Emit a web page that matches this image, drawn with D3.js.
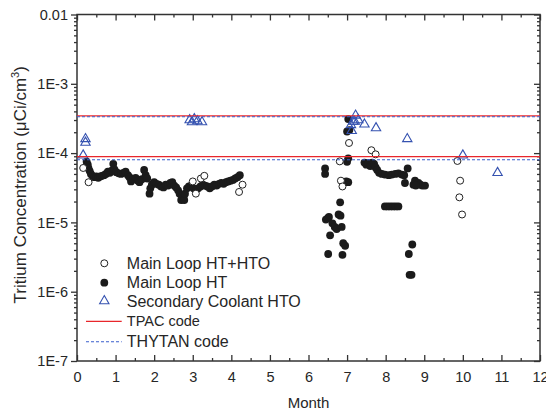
<!DOCTYPE html>
<html>
<head>
<meta charset="utf-8">
<script src="https://cdn.jsdelivr.net/npm/d3@7"></script>
<style>
  body { margin: 0; background: #fff; }
  svg text { font-family: "Liberation Sans", Arial, sans-serif; fill: #262626; }
</style>
</head>
<body>
<div id="chart"></div>
<script>
// Main Loop HT (filled circles): [month, concentration]
const mainLoopHT = [
  [0.25,7.5e-5],[0.28,6.8e-5],[0.30,6.0e-5],[0.33,5.5e-5],[0.36,5.0e-5],[0.40,4.7e-5],[0.45,4.5e-5],
  [0.50,4.6e-5],[0.55,4.4e-5],[0.60,4.6e-5],[0.65,4.7e-5],[0.70,4.8e-5],[0.75,5.0e-5],[0.80,5.4e-5],
  [0.85,5.2e-5],[0.90,5.6e-5],[0.94,7.0e-5],[0.97,5.8e-5],[1.02,5.3e-5],[1.08,5.1e-5],[1.14,5.0e-5],
  [1.20,5.2e-5],[1.26,5.4e-5],[1.32,4.8e-5],[1.36,4.5e-5],[1.40,3.9e-5],[1.45,4.2e-5],[1.52,4.4e-5],
  [1.58,4.0e-5],[1.62,3.8e-5],[1.68,4.2e-5],[1.74,5.7e-5],[1.78,4.8e-5],[1.82,4.3e-5],[1.88,2.6e-5],
  [1.90,3.1e-5],[1.94,3.5e-5],[2.00,3.8e-5],[2.06,3.6e-5],[2.12,3.5e-5],[2.18,3.3e-5],[2.24,3.2e-5],
  [2.30,3.5e-5],[2.36,3.4e-5],[2.42,3.7e-5],[2.47,3.8e-5],[2.52,3.4e-5],[2.57,3.2e-5],[2.62,2.9e-5],
  [2.66,2.6e-5],[2.70,2.1e-5],[2.72,2.4e-5],[2.76,2.3e-5],[2.78,2.1e-5],[2.80,2.6e-5],[2.85,3.1e-5],
  [2.90,3.3e-5],[2.96,3.4e-5],[3.02,3.1e-5],[3.08,2.9e-5],[3.14,3.1e-5],[3.20,3.3e-5],[3.26,3.5e-5],
  [3.32,3.4e-5],[3.38,3.3e-5],[3.44,3.1e-5],[3.50,3.3e-5],[3.56,3.5e-5],[3.62,3.4e-5],[3.68,3.6e-5],
  [3.74,3.7e-5],[3.80,3.6e-5],[3.86,3.8e-5],[3.92,3.9e-5],[3.98,4.0e-5],[4.04,4.1e-5],[4.10,4.3e-5],
  [4.16,4.5e-5],[4.22,4.8e-5],
  [6.43,6.0e-5],[6.43,5.0e-5],[6.45,1.1e-5],[6.50,1.15e-5],[6.53,1.2e-5],[6.56,6.5e-6],[6.51,3.5e-6],
  [6.62,9.7e-6],[6.68,8.6e-6],[6.73,8.0e-6],[6.78,1.3e-5],[6.83,1.25e-5],[6.82,1.95e-5],[6.86,8.6e-6],
  [6.88,3.4e-6],[6.90,5.0e-6],[6.95,4.6e-6],[6.93,3.8e-5],[6.98,3.9e-5],[7.03,3.8e-5],[7.00,7.5e-5],
  [7.03,8.4e-5],[7.00,2.05e-4],[7.06,2.15e-4],[7.03,3.1e-4],
  [7.45,7.3e-5],[7.50,6.8e-5],[7.55,7.2e-5],[7.60,6.5e-5],[7.65,7.3e-5],[7.70,7.0e-5],[7.74,6.2e-5],
  [7.78,5.7e-5],[7.83,5.2e-5],[7.90,5.0e-5],[7.98,4.9e-5],[8.08,4.8e-5],[8.16,4.9e-5],[8.25,5.0e-5],
  [8.33,5.1e-5],[8.42,4.9e-5],[8.48,4.8e-5],[8.57,6.0e-5],[8.50,3.7e-5],[8.72,3.5e-5],[8.76,4.0e-5],
  [8.80,3.6e-5],[8.85,3.7e-5],[8.90,3.5e-5],[8.95,3.4e-5],[9.02,3.4e-5],[8.78,3.4e-5],
  [7.98,1.7e-5],[8.05,1.7e-5],[8.12,1.7e-5],[8.19,1.7e-5],[8.26,1.7e-5],[8.33,1.7e-5],
  [8.69,4.8e-6],[8.60,3.5e-6],[8.62,1.75e-6],[8.67,1.75e-6]
];

// Main Loop HT+HTO (open circles)
const mainLoopHTHTO = [
  [0.16,6.1e-5],[0.30,3.8e-5],[3.00,3.9e-5],[3.08,2.6e-5],[3.21,4.3e-5],[3.30,4.7e-5],
  [4.20,2.75e-5],[4.29,3.5e-5],[6.81,7.6e-5],[6.84,4.0e-5],[6.88,3.3e-5],[7.05,1.4e-4],
  [7.63,1.1e-4],[7.74,9.6e-5],[9.86,7.7e-5],[9.93,4.0e-5],[9.91,2.3e-5],[9.98,1.3e-5]
];

// Secondary Coolant HTO (triangles)
const secondaryHTO = [
  [0.16,9.3e-5],[0.22,1.42e-4],[0.22,1.6e-4],[2.92,3.0e-4],[2.98,2.8e-4],[3.04,3.1e-4],
  [3.12,2.9e-4],[3.24,2.8e-4],[7.10,2.55e-4],[7.12,2.1e-4],[7.16,2.85e-4],[7.20,2.85e-4],
  [7.22,3.5e-4],[7.29,3.0e-4],[7.45,2.6e-4],[7.75,2.3e-4],[8.56,1.6e-4],[10.0,9.3e-5],[10.9,5.2e-5]
];

// code predictions (horizontal levels)
const tpacLevels = [3.45e-4, 8.9e-5];
const thytanLevels = [3.35e-4, 8.0e-5];

const yTickValues = [1e-2, 1e-3, 1e-4, 1e-5, 1e-6, 1e-7];
const yTickLabels = ["0.01", "1E-3", "1E-4", "1E-5", "1E-6", "1E-7"];
const xTickValues = d3.range(0, 13);

const margin = {top: 14.5, right: 6, bottom: 51, left: 77};
const width = 546 - margin.left - margin.right;
const height = 412 - margin.top - margin.bottom;

const svg = d3.select("#chart").append("svg")
  .attr("width", 546)
  .attr("height", 412)
  .append("g")
  .attr("transform", "translate(" + margin.left + "," + margin.top + ")");

const x = d3.scaleLinear().domain([0, 12]).range([0, width]);
const y = d3.scaleLog().domain([1e-7, 1e-2]).range([height, 0]);

// minor tick values
let yMinor = [];
for (let e = -7; e < -2; e++) {
  for (let m = 2; m <= 9; m++) yMinor.push(m * Math.pow(10, e));
}
const xMinor = d3.range(0.5, 12, 1);

const axisColor = "#333";

function styleAxis(g) {
  g.select(".domain").remove();
  g.selectAll("line").attr("stroke", axisColor).attr("stroke-width", 1.3);
}

// left axis: outward ticks
svg.append("g").call(d3.axisLeft(y).tickValues(yMinor).tickSize(3).tickFormat(""))
  .call(styleAxis);
svg.append("g").call(d3.axisLeft(y).tickValues(yTickValues).tickSize(6).tickPadding(3)
    .tickFormat((d, i) => yTickLabels[i]))
  .call(styleAxis)
  .selectAll("text").style("font-size", "14.5px");

// right axis: ticks point into the plot
svg.append("g").attr("transform", "translate(" + width + ",0)")
  .call(d3.axisRight(y).tickValues(yMinor).tickSize(-3).tickFormat("")).call(styleAxis);
svg.append("g").attr("transform", "translate(" + width + ",0)")
  .call(d3.axisRight(y).tickValues(yTickValues).tickSize(-6).tickFormat("")).call(styleAxis);

// bottom axis: ticks up
svg.append("g").attr("transform", "translate(0," + height + ")")
  .call(d3.axisBottom(x).tickValues(xMinor).tickSize(-3).tickFormat("")).call(styleAxis);
svg.append("g").attr("transform", "translate(0," + height + ")")
  .call(d3.axisBottom(x).tickValues(xTickValues).tickSize(-6).tickPadding(11).tickFormat(d3.format("d")))
  .call(styleAxis)
  .selectAll("text").style("font-size", "14.5px");

// top axis: ticks down
svg.append("g")
  .call(d3.axisTop(x).tickValues(xMinor).tickSize(-3).tickFormat("")).call(styleAxis);
svg.append("g")
  .call(d3.axisTop(x).tickValues(xTickValues).tickSize(-6).tickFormat("")).call(styleAxis);

// frame
svg.append("rect")
  .attr("width", width).attr("height", height)
  .attr("fill", "none").attr("stroke", axisColor).attr("stroke-width", 1.5);

// filled circles
svg.append("g").selectAll("circle")
  .data(mainLoopHT).join("circle")
  .attr("cx", d => x(d[0])).attr("cy", d => y(d[1]))
  .attr("r", 3.9).attr("fill", "#1b1b1b");

// open circles
svg.append("g").selectAll("circle")
  .data(mainLoopHTHTO).join("circle")
  .attr("cx", d => x(d[0])).attr("cy", d => y(d[1]))
  .attr("r", 3.5).attr("fill", "#fff").attr("stroke", "#222").attr("stroke-width", 1);

// triangles
const tri = d3.symbol().type(d3.symbolTriangle).size(38);
const triColor = "#3552b0";
svg.append("g").selectAll("path")
  .data(secondaryHTO).join("path")
  .attr("transform", d => "translate(" + x(d[0]) + "," + y(d[1]) + ")")
  .attr("d", tri).attr("fill", "none").attr("stroke", triColor).attr("stroke-width", 1.1);

// code lines
const red = "#e8262b";
const blueDash = "#3a5fcd";
svg.append("g").selectAll("line")
  .data(tpacLevels).join("line")
  .attr("x1", 0).attr("x2", width)
  .attr("y1", d => y(d)).attr("y2", d => y(d))
  .attr("stroke", red).attr("stroke-width", 1.3);
svg.append("g").selectAll("line")
  .data(thytanLevels).join("line")
  .attr("x1", 0).attr("x2", width)
  .attr("y1", d => y(d)).attr("y2", d => y(d))
  .attr("stroke", blueDash).attr("stroke-width", 1.1).attr("stroke-dasharray", "3,2");

// legend
const legend = svg.append("g").attr("transform", "translate(" + (104.3 - margin.left) + "," + (263.3 - margin.top) + ")");
legend.append("circle").attr("cx", 0).attr("cy", 0).attr("r", 3.5)
  .attr("fill", "#fff").attr("stroke", "#222");
legend.append("text").attr("x", 22.5).attr("y", 5.8).style("font-size", "16px").text("Main Loop HT+HTO");
legend.append("circle").attr("cx", 0).attr("cy", 19.4).attr("r", 3.9).attr("fill", "#1b1b1b");
legend.append("text").attr("x", 22.5).attr("y", 25.2).style("font-size", "16px").text("Main Loop HT");
legend.append("path").attr("transform", "translate(0,37.7)").attr("d", tri)
  .attr("fill", "none").attr("stroke", triColor).attr("stroke-width", 1.1);
legend.append("text").attr("x", 22.5).attr("y", 43.5).style("font-size", "16px").text("Secondary Coolant HTO");
legend.append("line").attr("x1", -18.3).attr("x2", 17.4).attr("y1", 58).attr("y2", 58)
  .attr("stroke", red).attr("stroke-width", 1.3);
legend.append("text").attr("x", 22.5).attr("y", 63).style("font-size", "14.5px").text("TPAC code");
legend.append("line").attr("x1", -18.3).attr("x2", 17.4).attr("y1", 78.4).attr("y2", 78.4)
  .attr("stroke", blueDash).attr("stroke-width", 1.1).attr("stroke-dasharray", "3,2");
legend.append("text").attr("x", 22.5).attr("y", 84.2).style("font-size", "16px").text("THYTAN code");

// axis titles
svg.append("text")
  .attr("x", width / 2).attr("y", height + 47)
  .attr("text-anchor", "middle").style("font-size", "15px").text("Month");

const yTitle = svg.append("text")
  .attr("transform", "translate(" + (-51) + "," + (height / 2 - 3) + ") rotate(-90)")
  .attr("text-anchor", "middle").style("font-size", "17px");
yTitle.append("tspan").text("Tritium Concentration (\u03bcCi/cm");
yTitle.append("tspan").attr("dy", -7).style("font-size", "11px").text("3");
yTitle.append("tspan").attr("dy", 7).text(")");
</script>
</body>
</html>
